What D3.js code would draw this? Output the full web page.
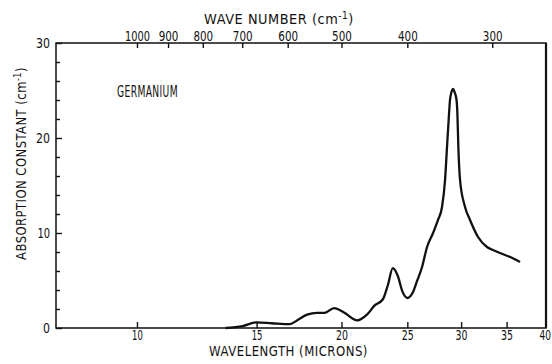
<!DOCTYPE html>
<html><head><meta charset="utf-8">
<script src="https://cdn.jsdelivr.net/npm/d3@7"></script>
<style>
body{margin:0;background:#fff;}
text{font-family:"DejaVu Sans",sans-serif;fill:#111;}
</style></head>
<body><svg id="c" width="552" height="364"></svg>
<script>
const wavelengthTicks = [10, 15, 20, 25, 30, 35, 40];
const waveNumberTicks = [1000, 900, 800, 700, 600, 500, 400, 300];
const yMajorTicks = [0, 10, 20, 30];
const yMinorTicks = [2, 4, 6, 8, 12, 14, 16, 18, 22, 24, 26, 28];
const wavelength = [13.5, 14.3, 15.0, 15.8, 16.8, 17.2, 17.8, 18.4, 18.9, 19.5, 20.2, 21.1, 21.8, 22.4, 23.0, 23.4, 23.8, 24.2, 24.6, 25.0, 25.49, 25.84, 26.28, 26.73, 27.28, 27.74, 28.12, 28.41, 28.60, 28.80, 28.89, 29.04, 29.19, 29.34, 29.54, 29.62, 29.72, 29.89, 30.40, 30.92, 31.77, 32.75, 33.43, 34.23, 35.41, 36.63];
const absorption = [0, 0.2, 0.6, 0.5, 0.4, 0.8, 1.4, 1.6, 1.6, 2.1, 1.6, 0.8, 1.4, 2.4, 3.0, 4.5, 6.3, 5.5, 3.8, 3.16, 3.79, 4.95, 6.42, 8.53, 10.0, 11.37, 12.74, 15.58, 19.05, 22.63, 24.0, 24.84, 25.16, 24.84, 24.0, 22.63, 19.05, 15.58, 12.74, 11.37, 9.58, 8.53, 8.21, 7.89, 7.47, 6.95];

const svg = d3.select("#c");
const L = 56, R = 546, T = 43, B = 328;
const x = d3.scaleLog().domain([7.6, 40]).range([L, R]);
const y = d3.scaleLinear().domain([0, 30]).range([B, T]);

function narrowTicks(g, fs, perDigit) {
  g.select(".domain").remove();
  g.selectAll("line").attr("stroke", "#111").attr("stroke-width", 1.4);
  g.selectAll("text").style("font-size", fs + "px").attr("fill", "#111")
    .each(function() {
      const s = this.textContent;
      if (!s) return;
      const w = s.length * perDigit - (s.startsWith("1") ? perDigit * 0.2 : 0);
      d3.select(this).attr("textLength", w).attr("lengthAdjust", "spacingAndGlyphs");
    });
}

// titles / lone labels, horizontally condensed to the reference widths
function fitted(cx, cy, rot, fs, targetW, parts, anchor, spacing) {
  const t = svg.append("text").attr("text-anchor", anchor || "middle").style("font-size", fs + "px")
    .attr("letter-spacing", (spacing === undefined ? 0.6 : spacing) + "px");
  parts.forEach(p => {
    const ts = t.append("tspan").text(p.t);
    if (p.sup) ts.attr("dy", -5).style("font-size", (fs * 0.7) + "px");
    if (p.down) ts.attr("dy", 5);
  });
  const w = t.node().getComputedTextLength();
  t.attr("transform", `translate(${cx},${cy}) rotate(${rot}) scale(${targetW / w},1)`);
  return t;
}

// bottom axis
svg.append("g").attr("transform", `translate(0,${B})`)
  .call(d3.axisBottom(x).tickValues(wavelengthTicks.slice(0, 6)).tickSize(-6).tickPadding(2).tickFormat(d3.format("d")))
  .call(g => narrowTicks(g, 14, 6));
fitted(539.5, B + 2 + 0.71 * 14, 0, 14, 11.5, [{t: String(wavelengthTicks[6])}], "start", 0);

// top axis
svg.append("g").attr("transform", `translate(0,${T})`)
  .call(d3.axisTop(x).tickValues(waveNumberTicks.map(w => 1e4 / w)).tickSize(-5).tickPadding(2)
    .tickFormat(d => Math.round(1e4 / d)))
  .call(g => narrowTicks(g, 13.5, 6.6));

// left axis
svg.append("g").attr("transform", `translate(${L},0)`)
  .call(d3.axisLeft(y).tickValues(yMajorTicks).tickSize(-6).tickPadding(6).tickFormat(d3.format("d")))
  .call(g => narrowTicks(g, 14, 7));
svg.append("g").attr("transform", `translate(${L},0)`)
  .call(d3.axisLeft(y).tickValues(yMinorTicks).tickSize(-4).tickFormat(""))
  .call(g => narrowTicks(g, 14, 7));

// frame
svg.append("path").attr("d", `M${L},${T}H${R}V${B}H${L}Z`).attr("fill", "none").attr("stroke", "#111").attr("stroke-width", 1.5);
svg.append("line").attr("x1", R).attr("x2", R).attr("y1", T).attr("y2", B).attr("stroke", "#111").attr("stroke-width", 2.2);

// curve
const pts = wavelength.map((w, i) => [w, absorption[i]]);
svg.append("path").datum(pts)
  .attr("d", d3.line().x(d => x(d[0])).y(d => y(d[1])).curve(d3.curveMonotoneX))
  .attr("fill", "none").attr("stroke", "#111").attr("stroke-width", 2.3).attr("stroke-linejoin", "round");

fitted(288.5, 356, 0, 14.5, 159, [{t: "WAVELENGTH (MICRONS)"}]);
fitted(279, 24, 0, 14, 150, [{t: "WAVE NUMBER (cm"}, {t: "-1", sup: true}, {t: ")", down: true}]);
fitted(26, 163.5, -90, 14.5, 193, [{t: "ABSORPTION CONSTANT (cm"}, {t: "-1", sup: true}, {t: ")", down: true}]);
fitted(117, 97, 0, 15.5, 61, [{t: "GERMANIUM"}], "start");
</script></body></html>
